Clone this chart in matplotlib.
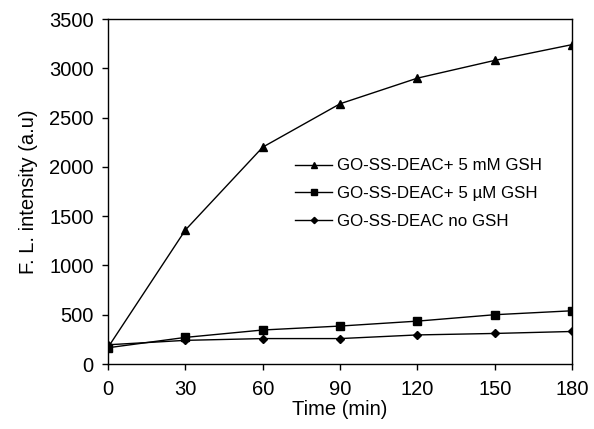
import matplotlib.pyplot as plt

plt.rcParams['font.family'] = ['Liberation Sans', 'DejaVu Sans']

time = [0, 30, 60, 90, 120, 150, 180]
gsh_5mM = [170, 1360, 2200, 2640, 2900, 3080, 3240]
gsh_5uM = [165, 270, 345, 385, 435, 500, 540]
no_gsh = [195, 240, 258, 258, 295, 310, 330]

labels = ['GO-SS-DEAC+ 5 mM GSH', 'GO-SS-DEAC+ 5 \u00b5M GSH', 'GO-SS-DEAC no GSH']


def main():
    fig = plt.figure(figsize=(5.94, 4.29), dpi=100)
    ax = fig.add_axes([0.182, 0.1515, 0.781, 0.8042])
    ax.plot(time, gsh_5mM, color='black', lw=1, marker='^', ms=6, label=labels[0])
    ax.plot(time, gsh_5uM, color='black', lw=1, marker='s', ms=6, label=labels[1])
    ax.plot(time, no_gsh, color='black', lw=1, marker='D', ms=4, label=labels[2])

    ax.set_xlim(0, 180)
    ax.set_ylim(0, 3500)
    ax.set_xticks(time)
    ax.set_yticks(range(0, 3501, 500))
    ax.tick_params(direction='out', labelsize=14.5, length=4.5, width=1)
    ax.tick_params(axis='x', pad=7)
    ax.tick_params(axis='y', pad=6)
    for s in ax.spines.values():
        s.set_linewidth(1)
    ax.set_xlabel('Time (min)', fontsize=14.5, labelpad=1)
    ax.set_ylabel('F. L. intensity (a.u)', fontsize=14.5, labelpad=8)
    ax.legend(loc='upper left', bbox_to_anchor=(0.37, 0.64), frameon=False,
              fontsize=12.2, handlelength=2.2, handletextpad=0.3, labelspacing=0.75,
              markerscale=0.8)
    fig.savefig('out.png', dpi=100)
    plt.close(fig)


if __name__ == '__main__':
    main()
